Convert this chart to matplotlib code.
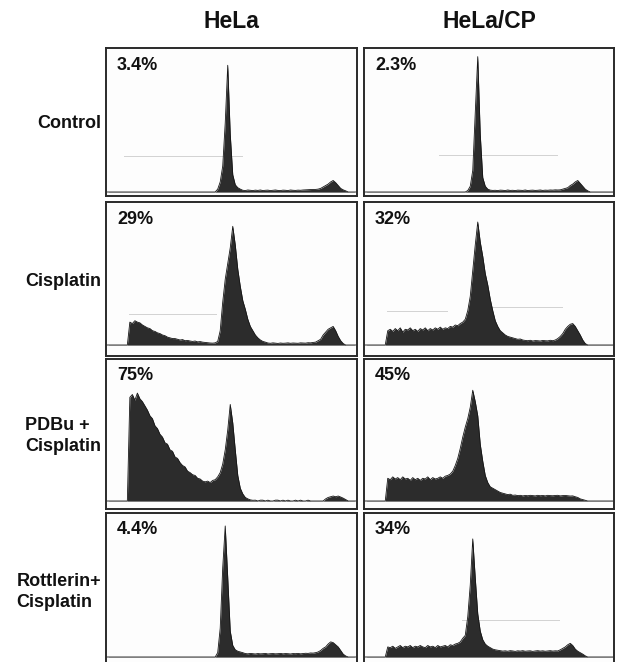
import numpy as np
import matplotlib
matplotlib.use("Agg")
import matplotlib.pyplot as plt

plt.rcParams["font.family"] = ["Liberation Sans", "DejaVu Sans"]

# DNA content histograms, 100 channels each, height as % of panel height
hela_control = [
    0, 0, 0, 0, 0, 0, 0, 0, 0, 0,
    0, 0, 0, 0, 0, 0, 0, 0, 0, 0,
    0, 0, 0, 0, 0, 0, 0, 0, 0, 0,
    0, 0, 0, 0, 0, 0, 0, 0, 0, 0,
    0, 0, 0, 0, 2, 7, 18, 48, 88, 40,
    12, 5, 3, 2, 1.2, 1, 1.4, 1.2, 1, 1.3,
    1.1, 1.4, 1, 1.2, 1.3, 1, 1.2, 1.4, 1.1, 1,
    1.3, 1.2, 1, 1.4, 1.2, 1.1, 1.3, 1.2, 1.4, 1.5,
    1.6, 1.7, 1.8, 1.8, 2, 2.5, 3.5, 4.5, 5.5, 7,
    8, 6.5, 4.5, 2.5, 1.5, 0.8, 0, 0, 0, 0,
]
hela_cp_control = [
    0, 0, 0, 0, 0, 0, 0, 0, 0, 0,
    0, 0, 0, 0, 0, 0, 0, 0, 0, 0,
    0, 0, 0, 0, 0, 0, 0, 0, 0, 0,
    0, 0, 0, 0, 0, 0, 0, 0, 0, 0,
    0, 1, 4, 15, 55, 94, 40, 10, 4, 2,
    1.3, 1.1, 1.2, 1, 1.3, 1.2, 1, 1.4, 1.1, 1.2,
    1, 1.3, 1.2, 1.1, 1.4, 1, 1.2, 1.3, 1.1, 1.2,
    1.4, 1.1, 1.3, 1.2, 1.4, 1.3, 1.5, 1.4, 1.5, 2,
    2.5, 3, 4.5, 5.5, 7, 8, 6, 4, 2, 0.8,
    0, 0, 0, 0, 0, 0, 0, 0, 0, 0,
]
hela_cisplatin = [
    0, 0, 0, 0, 0, 0, 0, 0, 0, 16,
    15, 17, 16, 15.5, 14, 13, 12, 11.5, 10, 9.5,
    8.5, 8, 7, 6.5, 5.5, 5, 4.5, 4.5, 4, 3.5,
    3.8, 3, 3.2, 2.8, 2.5, 2.8, 2.2, 2.4, 2, 1.8,
    1.6, 1.4, 1.3, 1.5, 2.5, 10, 30, 46, 57, 68,
    83, 70, 53, 41, 31, 25, 18, 13, 10, 7,
    5, 3.5, 2.5, 2, 1.4, 1.2, 1.5, 1.3, 1.1, 1.4,
    1.2, 1.3, 1.5, 1.2, 1.4, 1.3, 1.2, 1.5, 1.4, 1.3,
    1.6, 1.5, 1.8, 2, 3, 4, 7, 9, 11, 12,
    13, 10, 6, 3, 1, 0, 0, 0, 0, 0,
]
hela_cp_cisplatin = [
    0, 0, 0, 0, 0, 0, 0, 0, 0, 10,
    11, 9.5, 11.5, 10, 12, 9, 11, 10.5, 12, 10,
    11, 9.5, 11.5, 10.5, 12, 10, 11.5, 10.5, 12, 11,
    12.5, 11, 12, 11.5, 13, 12.5, 14, 13.5, 15, 16,
    18, 24, 34, 52, 70, 86, 72, 62, 50, 42,
    32, 24, 17, 13, 10, 8.5, 7, 6, 5.5, 5,
    4.5, 4, 4.2, 3.5, 3.2, 3, 3.3, 2.8, 3.1, 3,
    2.8, 3.2, 3, 2.9, 3.3, 3, 3.5, 4.5, 6, 8,
    11, 13, 14.5, 15, 13, 10, 7, 3.5, 1, 0,
    0, 0, 0, 0, 0, 0, 0, 0, 0, 0,
]
hela_pdbu = [
    0, 0, 0, 0, 0, 0, 0, 0, 0, 73,
    75, 71, 76, 72, 70, 67, 64, 60, 58, 53,
    51, 47, 45, 41, 40, 36, 35, 31, 30, 27,
    25, 24, 21, 20, 18.5, 18, 16, 15.5, 14, 13.5,
    14, 13, 14.5, 15, 17, 20, 26, 36, 50, 68,
    55, 36, 18, 9, 5, 2.5, 1.5, 0.8, 0.5, 0.6,
    0, 0.6, 0.6, 0, 0.6, 0, 0, 0.6, 0.6, 0,
    0.6, 0, 0.6, 0, 0, 0.6, 0, 0.6, 0, 0,
    0.6, 0, 0, 0, 0, 0, 0, 1.5, 2.5, 3,
    3.5, 3, 3.5, 2.8, 2, 1, 0, 0, 0, 0,
]
hela_cp_pdbu = [
    0, 0, 0, 0, 0, 0, 0, 0, 0, 16,
    15, 17, 15.5, 16.5, 15, 17, 15.5, 16, 14.5, 16.5,
    15, 16, 14.5, 16, 15.5, 17, 15, 16.5, 15.5, 16,
    17, 16, 17.5, 18, 19, 21, 25, 30, 37, 45,
    52, 58, 66, 78, 70, 60, 40, 28, 18, 13,
    10, 9, 8, 7, 6, 5.5, 5, 4.5, 4.8, 4,
    4.2, 3.8, 4, 3.6, 3.9, 3.7, 4, 3.8, 3.6, 4,
    3.7, 3.9, 3.6, 4, 3.8, 3.7, 3.9, 4, 3.6, 3.8,
    3.9, 3.7, 3.5, 3.6, 3, 2.5, 1.5, 1, 0.5, 0,
    0, 0, 0, 0, 0, 0, 0, 0, 0, 0,
]
hela_rottlerin = [
    0, 0, 0, 0, 0, 0, 0, 0, 0, 0,
    0, 0, 0, 0, 0, 0, 0, 0, 0, 0,
    0, 0, 0, 0, 0, 0, 0, 0, 0, 0,
    0, 0, 0, 0, 0, 0, 0, 0, 0, 0,
    0, 0, 0, 0, 3, 20, 62, 91, 55, 18,
    8, 5, 4, 3.5, 3, 2.4, 2.2, 2.5, 2.3, 2.1,
    2.4, 2.2, 2.3, 2.5, 2.1, 2.3, 2.4, 2.2, 2.3, 2.5,
    2.2, 2.4, 2.3, 2.1, 2.4, 2.3, 2.5, 2.2, 2.4, 2.6,
    2.5, 2.8, 2.7, 3, 3.5, 4.5, 6, 7, 9, 10.5,
    10, 8.5, 7, 4.5, 2, 0.7, 0, 0, 0, 0,
]
hela_cp_rottlerin = [
    0, 0, 0, 0, 0, 0, 0, 0, 0, 7,
    6.5, 7.5, 6, 7, 8, 6.5, 7.5, 7, 8, 6.5,
    7.5, 7, 8, 7, 6.5, 8, 7, 7.5, 6.5, 8,
    7, 7.5, 8, 7, 8.5, 8, 9, 9.5, 10.5, 13,
    15, 28, 50, 82, 55, 30, 18, 12, 9, 7.5,
    6.5, 5.5, 5, 4.7, 4.4, 4.1, 4.3, 4, 4.4, 4.2,
    3.9, 4.3, 4.1, 4.4, 4, 4.2, 4.3, 3.9, 4.2, 4.4,
    4.1, 4.3, 4, 4.2, 4.4, 4.1, 4.3, 4.2, 5, 6,
    7, 8.5, 9.5, 8, 5.5, 4, 3, 2, 0.8, 0,
    0, 0, 0, 0, 0, 0, 0, 0, 0, 0,
]

cell_lines = ["HeLa", "HeLa/CP"]
treatments = ["Control", "Cisplatin", "PDBu +\nCisplatin", "Rottlerin+\nCisplatin"]
apoptosis_pct = [["3.4%", "2.3%"], ["29%", "32%"], ["75%", "45%"], ["4.4%", "34%"]]
histograms = [
    [hela_control, hela_cp_control],
    [hela_cisplatin, hela_cp_cisplatin],
    [hela_pdbu, hela_cp_pdbu],
    [hela_rottlerin, hela_cp_rottlerin],
]
# faint gate markers: (row, col, start channel, end channel, level)
gates = [
    (0, 0, 7, 54, 25), (0, 1, 30, 77, 26),
    (1, 0, 9, 44, 22), (1, 1, 9, 33, 23.5), (1, 1, 51, 79, 26.5),
    (3, 1, 39, 78, 26),
]

W, H = 617, 662
fig = plt.figure(figsize=(W / 100, H / 100), dpi=100)
fig.patch.set_facecolor("white")

col_px = [(106, 357), (364, 614)]
row_px = [(48, 196), (202, 356), (359, 509), (513, 667)]
base_px = [4, 11, 8, 10]   # baseline offset above panel bottom
channels = np.arange(100) + 0.5
FILL = "#2c2c2c"

axes = {}
for r, (top, bot) in enumerate(row_px):
    for c, (left, right) in enumerate(col_px):
        ax = fig.add_axes([left / W, 1 - bot / H, (right - left) / W, (bot - top) / H])
        ax.set_facecolor("#fdfdfd")
        ax.set_xlim(0, 100)
        ph = bot - top
        ax.set_ylim(-base_px[r] / (ph - base_px[r]) * 100, 100)
        ax.plot([1, 99], [0, 0], color="#c4c4c4", lw=0.6, zorder=1)
        vals = np.array(histograms[r][c], dtype=float)
        ax.fill_between(channels, 0, vals, color=FILL, lw=0, zorder=2)
        ax.plot(channels, vals, color="#151515", lw=0.6, zorder=3)
        ax.set_xticks([])
        ax.set_yticks([])
        for sp in ax.spines.values():
            sp.set_linewidth(1.4)
            sp.set_color("#2a2a2a")
        ax.annotate(apoptosis_pct[r][c], xy=(0, 1), xycoords="axes fraction",
                    xytext=(11, -17), textcoords="offset pixels",
                    ha="left", va="center", fontsize=13, fontweight="bold", color="#111111")
        axes[(r, c)] = ax

for r, c, x0, x1, lvl in gates:
    axes[(r, c)].plot([x0, x1], [lvl, lvl], color="#d2d2d2", lw=0.7, zorder=1)

for c, name in enumerate(cell_lines):
    cx = (col_px[c][0] + col_px[c][1]) / 2
    fig.text(cx / W, 1 - 21 / H, name, ha="center", va="center",
             fontsize=16.5, fontweight="bold", color="#111111")

for r, label in enumerate(treatments):
    cy = (row_px[r][0] + row_px[r][1]) / 2
    fig.text(101 / W, 1 - (cy + 2) / H, label, ha="right", va="center",
             multialignment="left", fontsize=13, fontweight="bold",
             color="#111111", linespacing=1.3)

fig.savefig("out.png", dpi=100, facecolor="white")
